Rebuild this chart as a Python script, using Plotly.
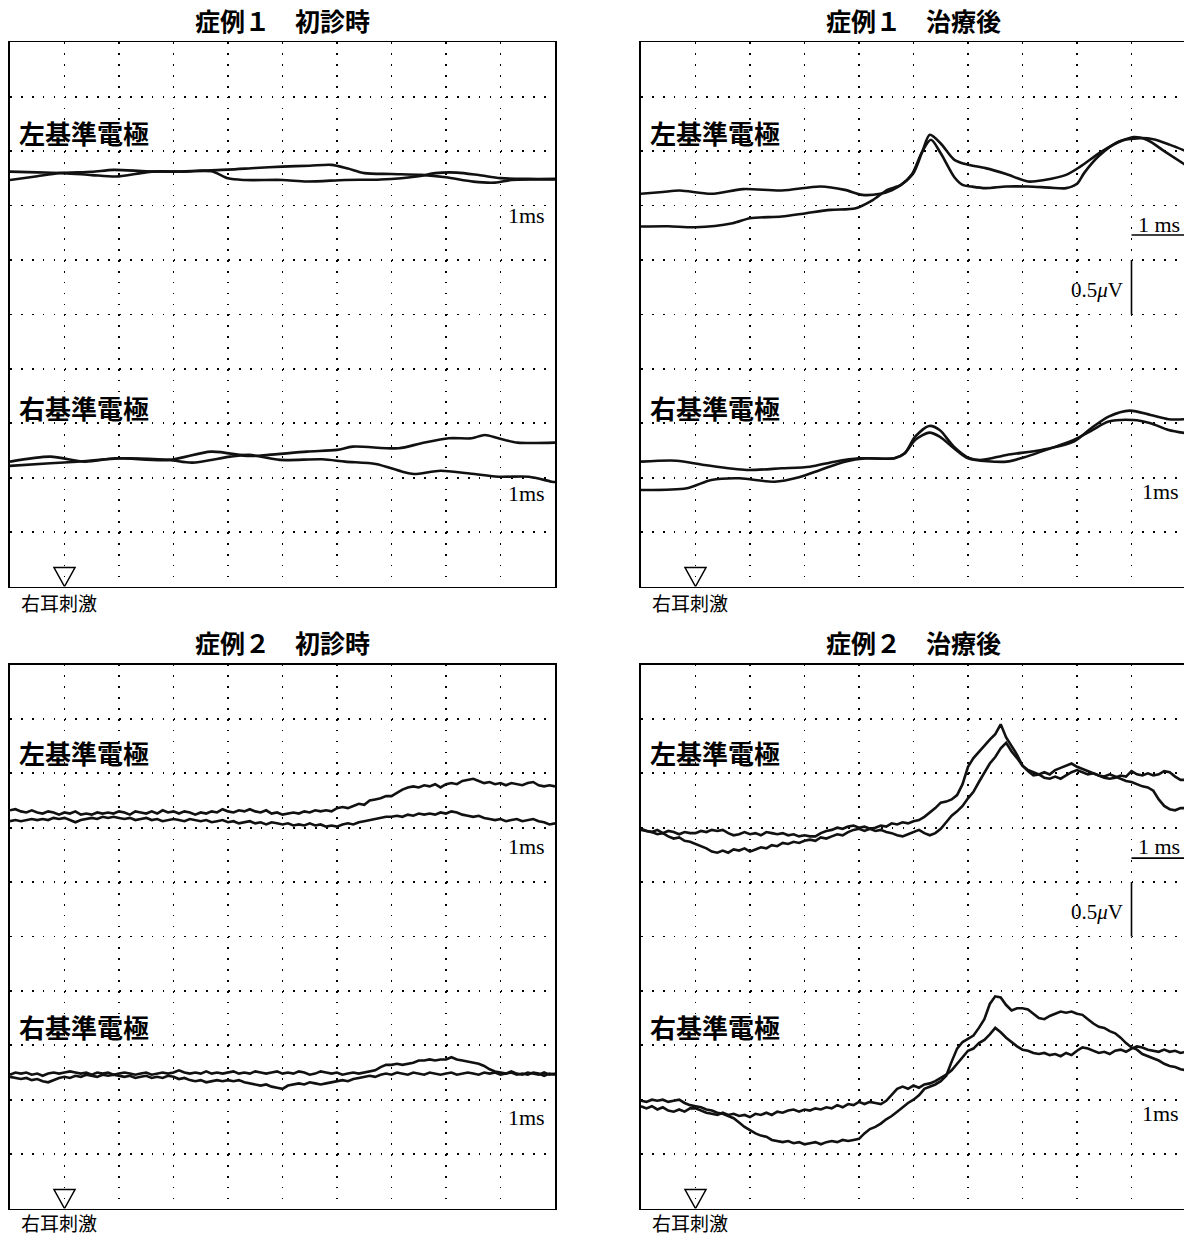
import plotly.graph_objects as go

# ============================ DATA ============================
PANEL_TITLES = ["症例１　初診時", "症例１　治療後", "症例２　初診時", "症例２　治療後"]
ELECTRODE_LABELS = ["左基準電極", "右基準電極"]
STIM_LABEL = "右耳刺激"
TIME_LABEL = "1ms"
TIME_LABEL_BAR = "1 ms"
VOLT_LABEL = "0.5<i>μ</i>V"
STIM_TIME = 0.0          # ms (stimulus onset)
SCALE_MS = 1.0           # time scale bar, ms
SCALE_UV = 0.5           # amplitude scale bar, μV
X_RANGE = [-1, 9]        # ms  (1 ms / division)
Y_RANGE = [0, 5]         # μV  (0.5 μV / division)

# ---- Case 1, initial visit (smooth traces) ----
C1I_L1_T = [-1, -0.5, -0.1, 0.5, 0.9, 1.5, 2.0, 2.5, 3.0, 3.5, 4.0, 4.5, 4.9, 5.2, 5.5, 6.0, 6.55, 7.0, 7.5, 7.9, 8.2, 8.6, 9.0]
C1I_L1_V = [3.735, 3.77, 3.798, 3.81, 3.828, 3.815, 3.812, 3.822, 3.83, 3.845, 3.858, 3.866, 3.874, 3.84, 3.798, 3.79, 3.782, 3.76, 3.72, 3.711, 3.735, 3.74, 3.74]
C1I_L2_T = [-1, -0.5, 0.0, 0.5, 0.95, 1.3, 1.6, 2.2, 2.7, 3.0, 3.3, 4.0, 4.45, 5.15, 5.8, 6.5, 6.8, 7.2, 7.6, 8.0, 8.5, 9.0]
C1I_L2_V = [3.812, 3.805, 3.798, 3.78, 3.767, 3.79, 3.812, 3.812, 3.815, 3.75, 3.735, 3.735, 3.721, 3.735, 3.74, 3.77, 3.798, 3.803, 3.78, 3.752, 3.745, 3.745]
C1I_R1_T = [-1, -0.26, 0.37, 0.93, 1.92, 2.69, 3.39, 3.74, 4.45, 5.0, 5.29, 6.13, 6.55, 7.05, 7.47, 7.71, 7.96, 8.31, 9.0]
C1I_R1_V = [1.147, 1.193, 1.147, 1.178, 1.163, 1.239, 1.199, 1.209, 1.239, 1.255, 1.285, 1.270, 1.316, 1.362, 1.362, 1.392, 1.362, 1.322, 1.322]
C1I_R2_T = [-1, -0.26, 0.23, 1.07, 1.92, 2.34, 3.04, 3.39, 3.95, 4.73, 5.15, 5.71, 6.2, 6.41, 6.9, 7.4, 7.96, 8.52, 8.94, 9.0]
C1I_R2_V = [1.108, 1.132, 1.147, 1.178, 1.163, 1.138, 1.193, 1.209, 1.163, 1.169, 1.147, 1.126, 1.055, 1.034, 1.064, 1.040, 1.009, 1.009, 0.963, 0.96]

# ---- Case 1, after treatment (smooth traces) ----
C1A_L1_T = [-1, -0.6, -0.29, 0.29, 0.87, 1.58, 2.29, 2.74, 3.06, 3.39, 3.6, 3.8, 4.0, 4.15, 4.3, 4.5, 4.75, 5.0, 5.32, 5.7, 6.1, 6.4, 6.8, 7.06, 7.45, 7.84, 8.05, 8.3, 8.6, 9.0]
C1A_L1_V = [3.608, 3.625, 3.638, 3.608, 3.651, 3.638, 3.675, 3.644, 3.598, 3.608, 3.64, 3.70, 3.80, 3.98, 4.15, 4.07, 3.92, 3.875, 3.844, 3.79, 3.721, 3.735, 3.782, 3.858, 3.996, 4.10, 4.13, 4.10, 4.0, 3.87]
C1A_L2_T = [-1, -0.5, 0, 0.68, 1.0, 1.58, 2.03, 2.48, 2.94, 3.26, 3.52, 3.77, 3.97, 4.16, 4.32, 4.5, 4.75, 4.9, 5.06, 5.32, 5.7, 6.1, 6.5, 6.8, 7.0, 7.13, 7.39, 7.77, 8.16, 8.4, 8.7, 9.0]
C1A_L2_V = [3.307, 3.31, 3.301, 3.338, 3.384, 3.399, 3.430, 3.460, 3.476, 3.553, 3.644, 3.690, 3.787, 3.996, 4.104, 3.98, 3.76, 3.69, 3.675, 3.660, 3.675, 3.675, 3.665, 3.660, 3.70, 3.798, 3.95, 4.088, 4.12, 4.11, 4.06, 4.0]
C1A_R1_T = [-1, -0.35, 0.16, 0.94, 1.58, 2.1, 2.55, 3.0, 3.65, 3.84, 4.03, 4.29, 4.48, 4.74, 5.03, 5.26, 5.71, 6.35, 6.94, 7.26, 7.58, 7.97, 8.35, 8.68, 9.0]
C1A_R1_V = [1.147, 1.156, 1.117, 1.071, 1.086, 1.101, 1.147, 1.178, 1.178, 1.224, 1.377, 1.475, 1.438, 1.285, 1.178, 1.163, 1.209, 1.255, 1.331, 1.454, 1.561, 1.616, 1.576, 1.537, 1.537]
C1A_R2_T = [-1, -0.16, 0.29, 0.81, 1.45, 1.9, 2.29, 2.74, 3.13, 3.65, 3.84, 4.03, 4.29, 4.48, 4.74, 5.0, 5.71, 5.97, 6.61, 6.94, 7.26, 7.58, 8.03, 8.35, 8.68, 9.0]
C1A_R2_V = [0.887, 0.903, 0.979, 0.994, 0.963, 1.004, 1.071, 1.147, 1.178, 1.178, 1.224, 1.346, 1.414, 1.377, 1.270, 1.178, 1.147, 1.178, 1.285, 1.346, 1.43, 1.515, 1.530, 1.50, 1.438, 1.408]

# ---- Case 2 (noisy traces, sampled every 0.1 ms) ----
T_FINE = [-1.0, -0.9, -0.8, -0.7, -0.6, -0.5, -0.4, -0.3, -0.2, -0.1,
          0.0, 0.1, 0.2, 0.3, 0.4, 0.5, 0.6, 0.7, 0.8, 0.9,
          1.0, 1.1, 1.2, 1.3, 1.4, 1.5, 1.6, 1.7, 1.8, 1.9,
          2.0, 2.1, 2.2, 2.3, 2.4, 2.5, 2.6, 2.7, 2.8, 2.9,
          3.0, 3.1, 3.2, 3.3, 3.4, 3.5, 3.6, 3.7, 3.8, 3.9,
          4.0, 4.1, 4.2, 4.3, 4.4, 4.5, 4.6, 4.7, 4.8, 4.9,
          5.0, 5.1, 5.2, 5.3, 5.4, 5.5, 5.6, 5.7, 5.8, 5.9,
          6.0, 6.1, 6.2, 6.3, 6.4, 6.5, 6.6, 6.7, 6.8, 6.9,
          7.0, 7.1, 7.2, 7.3, 7.4, 7.5, 7.6, 7.7, 7.8, 7.9,
          8.0, 8.1, 8.2, 8.3, 8.4, 8.5, 8.6, 8.7, 8.8, 8.9, 9.0]

C2I_L1 = [3.66, 3.67, 3.65, 3.64, 3.66, 3.64, 3.63, 3.65, 3.64, 3.62,
          3.64, 3.63, 3.65, 3.62, 3.63, 3.62, 3.64, 3.63, 3.64, 3.63,
          3.65, 3.64, 3.62, 3.65, 3.64, 3.63, 3.65, 3.63, 3.66, 3.64,
          3.65, 3.63, 3.65, 3.64, 3.62, 3.64, 3.63, 3.65, 3.64, 3.67,
          3.65, 3.64, 3.66, 3.65, 3.67, 3.65, 3.64, 3.66, 3.63, 3.64,
          3.62, 3.63, 3.64, 3.63, 3.65, 3.64, 3.66, 3.65, 3.66, 3.65,
          3.68, 3.69, 3.68, 3.70, 3.72, 3.71, 3.75, 3.76, 3.77, 3.79,
          3.79, 3.82, 3.85, 3.87, 3.88, 3.87, 3.89, 3.88, 3.90, 3.87,
          3.90, 3.91, 3.90, 3.93, 3.94, 3.95, 3.93, 3.91, 3.92, 3.90,
          3.91, 3.89, 3.91, 3.90, 3.89, 3.91, 3.92, 3.89, 3.88, 3.89, 3.88]
C2I_L2 = [3.56, 3.57, 3.56, 3.57, 3.58, 3.57, 3.58, 3.57, 3.59, 3.58,
          3.59, 3.57, 3.55, 3.57, 3.58, 3.59, 3.58, 3.60, 3.59, 3.60,
          3.59, 3.58, 3.59, 3.57, 3.58, 3.59, 3.57, 3.58, 3.56, 3.57,
          3.58, 3.57, 3.56, 3.58, 3.57, 3.56, 3.57, 3.55, 3.56, 3.57,
          3.55, 3.56, 3.54, 3.55, 3.56, 3.54, 3.55, 3.53, 3.55, 3.54,
          3.53, 3.54, 3.52, 3.53, 3.52, 3.54, 3.52, 3.53, 3.51, 3.52,
          3.51, 3.53, 3.54, 3.53, 3.55, 3.56, 3.57, 3.58, 3.59, 3.60,
          3.60, 3.61, 3.60, 3.62, 3.61, 3.63, 3.62, 3.63, 3.62, 3.64,
          3.63, 3.65, 3.64, 3.62, 3.61, 3.60, 3.61, 3.59, 3.58, 3.57,
          3.58, 3.56, 3.57, 3.58, 3.56, 3.57, 3.58, 3.56, 3.55, 3.53, 3.54]
C2I_R1 = [1.23, 1.25, 1.24, 1.25, 1.23, 1.24, 1.22, 1.24, 1.25, 1.24,
          1.25, 1.26, 1.25, 1.24, 1.25, 1.23, 1.25, 1.24, 1.25, 1.23,
          1.24, 1.25, 1.24, 1.23, 1.24, 1.25, 1.23, 1.24, 1.25, 1.24,
          1.25, 1.27, 1.25, 1.24, 1.25, 1.24, 1.26, 1.24, 1.25, 1.24,
          1.25, 1.26, 1.24, 1.25, 1.24, 1.26, 1.25, 1.24, 1.25, 1.26,
          1.24, 1.25, 1.24, 1.26, 1.25, 1.23, 1.24, 1.26, 1.25, 1.24,
          1.25, 1.23, 1.24, 1.25, 1.24, 1.25, 1.26, 1.27, 1.30, 1.32,
          1.32, 1.33, 1.32, 1.33, 1.34, 1.36, 1.36, 1.37, 1.36, 1.37,
          1.37, 1.39, 1.37, 1.36, 1.35, 1.34, 1.33, 1.31, 1.28, 1.26,
          1.25, 1.24, 1.25, 1.23, 1.24, 1.23, 1.25, 1.24, 1.22, 1.24, 1.23]
C2I_R2 = [1.21, 1.20, 1.19, 1.20, 1.18, 1.19, 1.17, 1.16, 1.18, 1.20,
          1.21, 1.20, 1.22, 1.21, 1.23, 1.22, 1.21, 1.23, 1.22, 1.23,
          1.22, 1.21, 1.22, 1.20, 1.21, 1.22, 1.20, 1.21, 1.20, 1.22,
          1.21, 1.19, 1.20, 1.18, 1.17, 1.18, 1.16, 1.17, 1.18, 1.17,
          1.18, 1.17, 1.18, 1.16, 1.15, 1.14, 1.13, 1.14, 1.12, 1.11,
          1.10, 1.13, 1.14, 1.15, 1.14, 1.16, 1.15, 1.14, 1.15, 1.16,
          1.17, 1.18, 1.17, 1.19, 1.20, 1.21, 1.22, 1.21, 1.23, 1.24,
          1.23, 1.25, 1.24, 1.23, 1.25, 1.24, 1.23, 1.25, 1.24, 1.23,
          1.24, 1.25, 1.23, 1.24, 1.25, 1.24, 1.23, 1.25, 1.24, 1.25,
          1.23, 1.24, 1.26, 1.24, 1.23, 1.25, 1.24, 1.23, 1.25, 1.23, 1.24]

C2A_L1 = [3.49, 3.47, 3.46, 3.48, 3.45, 3.47, 3.46, 3.44, 3.46, 3.45,
          3.45, 3.47, 3.46, 3.48, 3.47, 3.48, 3.45, 3.43, 3.44, 3.46,
          3.44, 3.45, 3.43, 3.46, 3.45, 3.44, 3.45, 3.43, 3.44, 3.42,
          3.43, 3.42, 3.42, 3.45, 3.47, 3.48, 3.50, 3.49, 3.51, 3.52,
          3.50, 3.51, 3.49, 3.50, 3.52, 3.51, 3.54, 3.53, 3.55, 3.54,
          3.56, 3.57, 3.60, 3.64, 3.68, 3.73, 3.74, 3.76, 3.80, 3.90,
          4.06, 4.14, 4.20, 4.26, 4.31, 4.36, 4.45, 4.33, 4.25, 4.17,
          4.07, 4.03, 4.01, 3.99, 3.96, 3.95, 3.97, 3.95, 3.98, 4.01,
          4.03, 4.01, 3.99, 4.00, 3.98, 3.96, 3.95, 3.96, 3.98, 3.97,
          4.02, 3.99, 3.98, 4.00, 3.98, 3.99, 4.02, 4.01, 3.97, 3.94, 3.94]
C2A_L2 = [3.48, 3.47, 3.46, 3.44, 3.45, 3.42, 3.40, 3.41, 3.38, 3.37,
          3.35, 3.33, 3.31, 3.28, 3.27, 3.29, 3.27, 3.30, 3.29, 3.31,
          3.28, 3.30, 3.32, 3.31, 3.34, 3.33, 3.36, 3.35, 3.37, 3.36,
          3.38, 3.39, 3.38, 3.41, 3.40, 3.42, 3.44, 3.43, 3.46, 3.48,
          3.49, 3.47, 3.49, 3.47, 3.48, 3.46, 3.45, 3.43, 3.42, 3.44,
          3.46, 3.48, 3.45, 3.43, 3.45, 3.49, 3.55, 3.61, 3.65, 3.70,
          3.77, 3.83, 3.92, 4.00, 4.09, 4.15, 4.23, 4.28, 4.20, 4.14,
          4.07, 4.02, 3.98, 3.99, 4.01, 3.99, 4.03, 4.05, 4.07, 4.09,
          4.06, 4.04, 4.02, 4.00, 3.98, 3.97, 3.99, 3.97, 3.95, 3.93,
          3.92, 3.90, 3.88, 3.87, 3.84, 3.76, 3.70, 3.67, 3.66, 3.68, 3.68]
C2A_R1 = [0.99, 0.98, 1.00, 0.99, 1.00, 0.98, 0.99, 1.00, 0.97, 0.95,
          0.94, 0.93, 0.91, 0.90, 0.88, 0.87, 0.85, 0.83, 0.79, 0.75,
          0.72, 0.69, 0.67, 0.66, 0.63, 0.62, 0.61, 0.62, 0.60, 0.61,
          0.59, 0.60, 0.61, 0.59, 0.61, 0.62, 0.61, 0.63, 0.62, 0.63,
          0.64, 0.69, 0.73, 0.75, 0.78, 0.82, 0.85, 0.89, 0.93, 0.97,
          1.00, 1.04, 1.10, 1.12, 1.14, 1.17, 1.22, 1.35, 1.47, 1.53,
          1.56, 1.59, 1.66, 1.74, 1.88, 1.95, 1.94, 1.87, 1.82, 1.84,
          1.84, 1.83, 1.79, 1.75, 1.74, 1.77, 1.79, 1.81, 1.80, 1.81,
          1.79, 1.78, 1.74, 1.70, 1.67, 1.66, 1.63, 1.61, 1.57, 1.52,
          1.48, 1.46, 1.42, 1.40, 1.38, 1.36, 1.33, 1.31, 1.30, 1.28, 1.27]
C2A_R2 = [0.94, 0.92, 0.94, 0.91, 0.93, 0.90, 0.89, 0.91, 0.89, 0.92,
          0.92, 0.90, 0.88, 0.87, 0.86, 0.88, 0.86, 0.87, 0.85, 0.86,
          0.84, 0.87, 0.86, 0.88, 0.86, 0.89, 0.88, 0.90, 0.91, 0.89,
          0.91, 0.90, 0.92, 0.91, 0.93, 0.92, 0.95, 0.93, 0.96, 0.95,
          0.98, 0.96, 0.98, 0.97, 0.96, 0.99, 1.05, 1.10, 1.12, 1.10,
          1.13, 1.11, 1.14, 1.15, 1.17, 1.20, 1.23, 1.27, 1.33, 1.38,
          1.45, 1.47, 1.52, 1.55, 1.60, 1.66, 1.62, 1.57, 1.53, 1.49,
          1.46, 1.45, 1.43, 1.42, 1.43, 1.41, 1.42, 1.40, 1.43, 1.41,
          1.45, 1.48, 1.47, 1.45, 1.43, 1.44, 1.42, 1.45, 1.46, 1.44,
          1.47, 1.49, 1.48, 1.46, 1.45, 1.44, 1.46, 1.44, 1.45, 1.43, 1.44]

# ============================ LAYOUT (pixels) ============================
W, H = 1184, 1238
PX_PER_MS = 54.5
COL_X = [(10, 555), (641, 1184)]           # plot-area left/right in px
ROW_Y = [(42.3, 586.5), (664.5, 1208.5)]   # plot-area top/bottom in px
TITLE_Y = [20, 642]
LABEL_Y = [(132, 407), (753, 1026)]
STIM_Y = [602, 1222]

INK = "#111111"
SANS = "Noto Sans CJK JP"
SERIF = "Liberation Serif"

panels = [
    dict(col=0, row=0, smooth=True,
         traces=[(C1I_L1_T, C1I_L1_V), (C1I_L2_T, C1I_L2_V), (C1I_R1_T, C1I_R1_V), (C1I_R2_T, C1I_R2_V)],
         bars=False, ms_y=(3.405, 0.85)),
    dict(col=1, row=0, smooth=True,
         traces=[(C1A_L1_T, C1A_L1_V), (C1A_L2_T, C1A_L2_V), (C1A_R1_T, C1A_R1_V), (C1A_R2_T, C1A_R2_V)],
         bars=True, ms_y=(3.33, 0.87), bar_y=3.23),
    dict(col=0, row=1, smooth=False,
         traces=[(T_FINE, C2I_L1), (T_FINE, C2I_L2), (T_FINE, C2I_R1), (T_FINE, C2I_R2)],
         bars=False, ms_y=(3.33, 0.84)),
    dict(col=1, row=1, smooth=False,
         traces=[(T_FINE, C2A_L1), (T_FINE, C2A_L2), (T_FINE, C2A_R1), (T_FINE, C2A_R2)],
         bars=True, ms_y=(3.33, 0.87), bar_y=3.22),
]

fig = go.Figure()
annotations = []
shapes = []

for i, p in enumerate(panels):
    n = "" if i == 0 else str(i + 1)
    xa, ya = "xaxis" + n, "yaxis" + n
    xr, yr = "x" + n, "y" + n
    x0, x1 = COL_X[p["col"]]
    y0, y1 = ROW_Y[p["row"]]
    xmax = X_RANGE[0] + (x1 - x0) / PX_PER_MS
    right = p["col"] == 1
    vdiv = (y1 - y0) / 10.0
    hdiv = PX_PER_MS

    fig.update_layout(**{
        xa: dict(domain=[x0 / W, x1 / W], range=[X_RANGE[0], xmax], anchor=yr,
                 tick0=X_RANGE[0], dtick=1, showticklabels=False, ticks="",
                 showgrid=True, gridcolor="#000000", gridwidth=1.7,
                 griddash="1.7px,%.3fpx" % (vdiv / 5 - 1.7),
                 zeroline=False, showline=True, linecolor="#000000", linewidth=1.8,
                 mirror=True, fixedrange=True),
        ya: dict(domain=[1 - y1 / H, 1 - y0 / H], range=Y_RANGE, anchor=xr,
                 tick0=0, dtick=0.5, showticklabels=False, ticks="",
                 showgrid=True, gridcolor="#000000", gridwidth=1.7,
                 griddash="1.7px,%.3fpx" % (hdiv / 5 - 1.7),
                 zeroline=False, showline=True, linecolor="#000000", linewidth=1.8,
                 mirror=(not right), fixedrange=True),
    })

    for (tt, vv) in p["traces"]:
        fig.add_trace(go.Scatter(
            x=tt, y=vv, mode="lines", xaxis=xr, yaxis=yr, hoverinfo="skip",
            line=dict(color=INK, width=2.6,
                      shape="spline" if p["smooth"] else "linear",
                      smoothing=0.8 if p["smooth"] else None),
        ))

    # title
    annotations.append(dict(text="<b>%s</b>" % PANEL_TITLES[i], xref="paper", yref="paper",
                            x=((x0 + x0 + 545) / 2) / W, y=1 - TITLE_Y[p["row"]] / H,
                            xanchor="center", yanchor="middle", showarrow=False,
                            font=dict(family=SANS, size=25, color="#000")))
    # electrode labels
    for k, lab in enumerate(ELECTRODE_LABELS):
        annotations.append(dict(text="<b>%s</b>" % lab, xref="paper", yref="paper",
                                x=(x0 + 7) / W, y=1 - LABEL_Y[p["row"]][k] / H,
                                xanchor="left", yanchor="middle", showarrow=False,
                                font=dict(family=SANS, size=26, color="#000")))
    # stimulus label
    annotations.append(dict(text=STIM_LABEL, xref="paper", yref="paper",
                            x=(x0 + 10) / W, y=1 - STIM_Y[p["row"]] / H,
                            xanchor="left", yanchor="middle", showarrow=False, borderpad=0,
                            font=dict(family=SANS, size=19, color="#000")))
    # stimulus triangle (apex on the baseline at stimulus time)
    tw = 10.5 / PX_PER_MS
    th = 19.0 / vdiv * 0.5
    shapes.append(dict(type="path", xref=xr, yref=yr,
                       path="M %.4f %.4f L %.4f %.4f L %.4f %.4f Z" % (
                           STIM_TIME - tw, Y_RANGE[0] + th, STIM_TIME + tw, Y_RANGE[0] + th,
                           STIM_TIME, Y_RANGE[0]),
                       line=dict(color="#000", width=1.5), fillcolor="rgba(0,0,0,0)", layer="above"))

    if not p["bars"]:
        for yy in p["ms_y"]:
            annotations.append(dict(text=TIME_LABEL, xref=xr, yref=yr, x=8.86, y=yy,
                                    xanchor="right", yanchor="middle", showarrow=False,
                                    font=dict(family=SERIF, size=22, color="#000")))
    else:
        tb = 8.0
        annotations.append(dict(text=TIME_LABEL_BAR, xref=xr, yref=yr, x=tb + SCALE_MS / 2,
                                y=p["ms_y"][0], xanchor="center", yanchor="middle",
                                showarrow=False, font=dict(family=SERIF, size=22, color="#000")))
        annotations.append(dict(text=TIME_LABEL, xref=xr, yref=yr, x=tb + 0.53,
                                y=p["ms_y"][1], xanchor="center", yanchor="middle",
                                showarrow=False, font=dict(family=SERIF, size=22, color="#000")))
        shapes.append(dict(type="line", xref=xr, yref=yr, x0=tb, x1=tb + SCALE_MS,
                           y0=p["bar_y"], y1=p["bar_y"], line=dict(color="#000", width=1.6)))
        shapes.append(dict(type="line", xref=xr, yref=yr, x0=tb, x1=tb,
                           y0=2.5, y1=2.5 + SCALE_UV, line=dict(color="#000", width=1.6)))
        annotations.append(dict(text=VOLT_LABEL, xref=xr, yref=yr, x=tb - 0.12,
                                y=2.5 + SCALE_UV * 0.45, xanchor="right", yanchor="middle",
                                showarrow=False, font=dict(family=SERIF, size=21, color="#000")))

fig.update_layout(width=W, height=H, margin=dict(l=0, r=0, t=0, b=0),
                  paper_bgcolor="white", plot_bgcolor="white", showlegend=False,
                  annotations=annotations, shapes=shapes)

fig.write_html("out.html", config={"displayModeBar": False, "staticPlot": True},
               post_script="document.body.style.margin='0';document.body.style.overflow='hidden';")
